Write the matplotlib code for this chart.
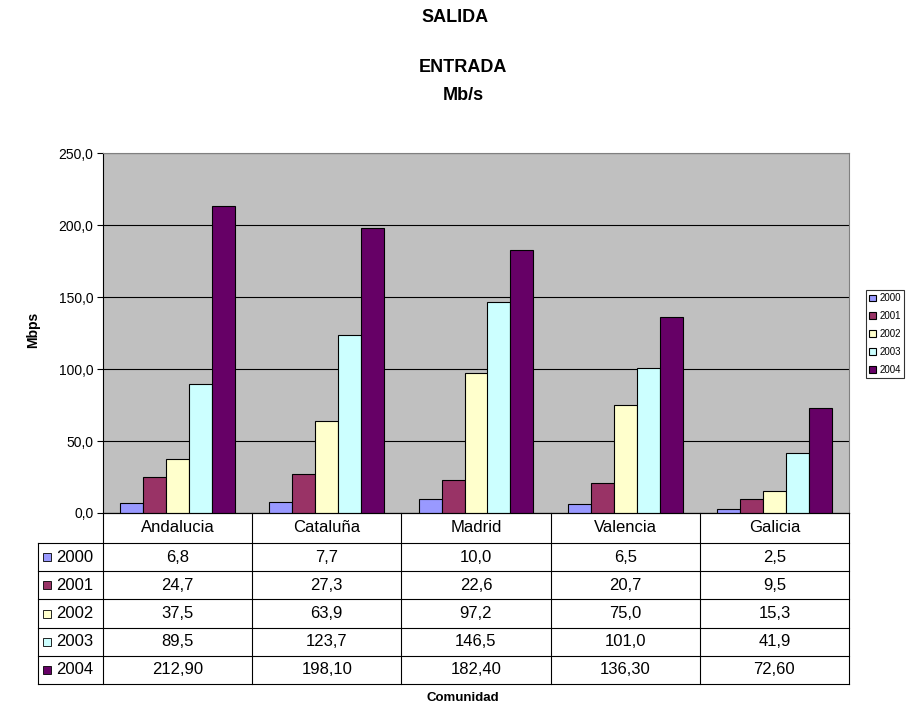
import numpy as np
import matplotlib.pyplot as plt
from matplotlib.patches import Rectangle

plt.rcParams['font.family'] = ['Liberation Sans', 'DejaVu Sans']

# datos
comunidades = ['Andalucia', 'Cataluña', 'Madrid', 'Valencia', 'Galicia']
anios = ['2000', '2001', '2002', '2003', '2004']
v2000 = [6.8, 7.7, 10.0, 6.5, 2.5]
v2001 = [24.7, 27.3, 22.6, 20.7, 9.5]
v2002 = [37.5, 63.9, 97.2, 75.0, 15.3]
v2003 = [89.5, 123.7, 146.5, 101.0, 41.9]
v2004 = [212.90, 198.10, 182.40, 136.30, 72.60]
series = [v2000, v2001, v2002, v2003, v2004]
decimales = [1, 1, 1, 1, 2]
colores = ['#9999FF', '#993366', '#FFFFCC', '#CCFFFF', '#660066']

W, H = 908, 705
fig = plt.figure(figsize=(W/100, H/100), dpi=100)

# area del grafico (en pixeles)
x0, x1 = 103, 849
y0, y1 = 153, 513
ax = fig.add_axes([x0/W, 1 - y1/H, (x1-x0)/W, (y1-y0)/H])
ax.set_facecolor('#C0C0C0')

nC = len(comunidades)
w = 23/149.2
x = np.arange(nC)
for j, s in enumerate(series):
    ax.bar(x + (j-2)*w, s, width=w, color=colores[j], edgecolor='black',
           linewidth=0.8, label=anios[j], zorder=3)

ax.set_xlim(-0.5, nC-0.5)
ax.set_ylim(0, 250)
ax.set_yticks(np.arange(0, 251, 50))
ax.set_yticklabels([('%.1f' % t).replace('.', ',') for t in np.arange(0, 251, 50)], fontsize=10)
ax.yaxis.grid(True, color='black', linewidth=0.8, zorder=1)
ax.set_axisbelow(True)
ax.set_xticks([])
ax.tick_params(axis='y', direction='out', length=4, width=0.8, pad=3)
for sp in ['top', 'right']:
    ax.spines[sp].set_color('#808080')
ax.spines['left'].set_color('black')
ax.spines['bottom'].set_color('black')

# tabla de datos
ty0, ty1 = 513, 684
tl = 38
tax = fig.add_axes([tl/W, 1 - ty1/H, (x1-tl)/W, (ty1-ty0)/H])
tax.set_xlim(tl, x1)
tax.set_ylim(ty1, ty0)
tax.axis('off')
colw = (x1 - x0) / nC
hdr = 543
rowh = (ty1 - hdr) / len(series)
lw = 0.8
# lineas horizontales
tax.plot([x0, x1], [ty0, ty0], color='black', lw=lw, clip_on=False)
for i in range(len(series) + 1):
    yy = hdr + i*rowh
    tax.plot([tl, x1], [yy, yy], color='black', lw=lw, clip_on=False)
# lineas verticales
tax.plot([tl, tl], [hdr, ty1], color='black', lw=lw, clip_on=False)
for c in range(nC + 1):
    xx = x0 + c*colw
    tax.plot([xx, xx], [ty0, ty1], color='black', lw=lw, clip_on=False)

for c, nom in enumerate(comunidades):
    tax.text(x0 + (c+0.5)*colw, (ty0+hdr)/2, nom, ha='center', va='center', fontsize=12)
for i, s in enumerate(series):
    yc = hdr + (i+0.5)*rowh
    tax.add_patch(Rectangle((43, yc-4), 8, 8, facecolor=colores[i], edgecolor='black', lw=0.6))
    tax.text(56, yc, anios[i], ha='left', va='center', fontsize=12)
    for c, v in enumerate(s):
        txt = ('%.*f' % (decimales[i], v)).replace('.', ',')
        tax.text(x0 + (c+0.5)*colw, yc, txt, ha='center', va='center', fontsize=12)

# leyenda
leg = fig.legend(loc='upper left', bbox_to_anchor=(866/W, 1 - 290/H), fontsize=7,
                 frameon=True, fancybox=False, handlelength=0.7, handleheight=0.7,
                 handletextpad=0.3, labelspacing=0.8, borderpad=0.35, borderaxespad=0)
leg.get_frame().set_edgecolor('black')
leg.get_frame().set_linewidth(0.8)

# titulos
fig.text(455/W, 1 - 18/H, 'SALIDA', ha='center', va='center', fontsize=13, fontweight='bold')
fig.text(463/W, 1 - 67/H, 'ENTRADA', ha='center', va='center', fontsize=13, fontweight='bold')
fig.text(463/W, 1 - 95/H, 'Mb/s', ha='center', va='center', fontsize=13, fontweight='bold')
fig.text(33/W, 1 - 330/H, 'Mbps', ha='center', va='center', rotation=90, fontsize=10, fontweight='bold')
fig.text(463/W, 1 - 698/H, 'Comunidad', ha='center', va='center', fontsize=9.5, fontweight='bold')

fig.savefig('out.png', dpi=100)
